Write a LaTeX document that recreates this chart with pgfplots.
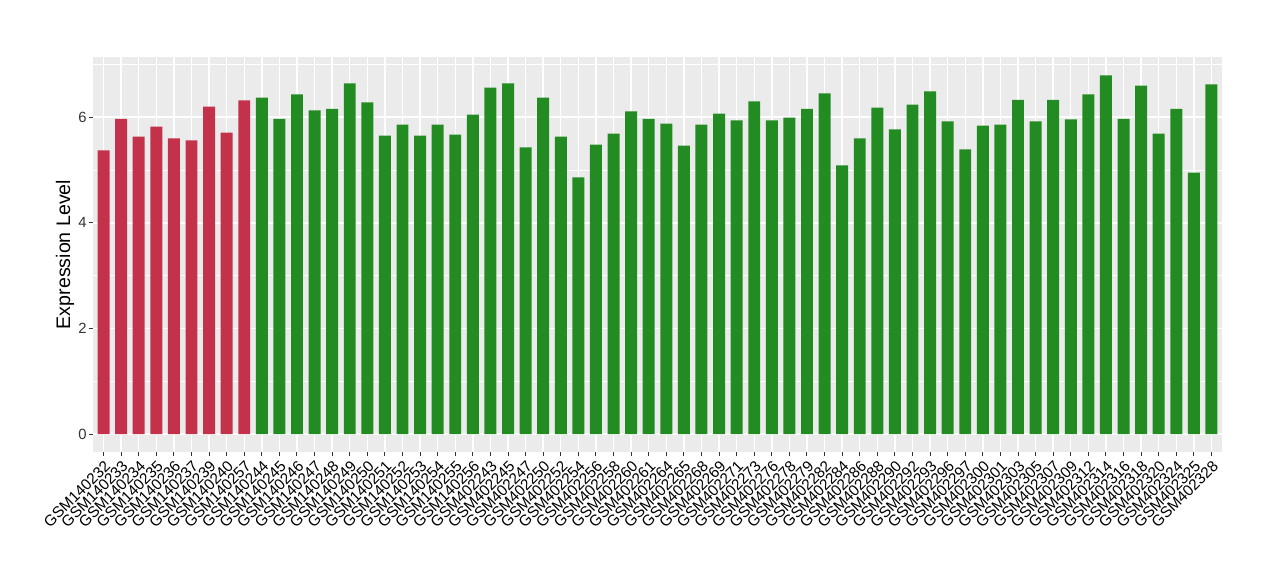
\documentclass[border=0pt]{standalone}
\usepackage{pgfplots}
\pgfplotsset{compat=1.18}
\usepackage{fontspec}
\setmainfont{Liberation Sans}
\definecolor{redbar}{RGB}{195,50,74}
\definecolor{greenbar}{RGB}{34,139,34}
\definecolor{panel}{RGB}{235,235,235}
\definecolor{tickgray}{RGB}{51,51,51}
\begin{document}
\begin{tikzpicture}
\useasboundingbox (0,0) rectangle (640pt,290pt);
\begin{axis}[
  at={(46.5pt,64pt)}, anchor=south west,
  width=564.5pt, height=197.5pt, scale only axis,
  xmin=-0.6, xmax=63.6, ymin=-0.34, ymax=7.14,
  axis background/.style={fill=panel},
  axis line style={draw=none},
  xtick={0,...,63},
  xticklabels={GSM140232,GSM140233,GSM140234,GSM140235,GSM140236,GSM140237,GSM140239,GSM140240,GSM140257,GSM140244,GSM140245,GSM140246,GSM140247,GSM140248,GSM140249,GSM140250,GSM140251,GSM140252,GSM140253,GSM140254,GSM140255,GSM140256,GSM402243,GSM402245,GSM402247,GSM402250,GSM402252,GSM402254,GSM402256,GSM402258,GSM402260,GSM402261,GSM402264,GSM402265,GSM402268,GSM402269,GSM402271,GSM402273,GSM402276,GSM402278,GSM402279,GSM402282,GSM402284,GSM402286,GSM402288,GSM402290,GSM402292,GSM402293,GSM402296,GSM402297,GSM402300,GSM402301,GSM402303,GSM402305,GSM402307,GSM402309,GSM402312,GSM402314,GSM402316,GSM402318,GSM402320,GSM402324,GSM402325,GSM402328},
  ytick={0,2,4,6},
  minor ytick={1,3,5,7},
  grid=both,
  major grid style={white, line width=0.7pt},
  minor grid style={white, line width=0.35pt},
  tick pos=left,
  tick align=outside,
  major tick length=2pt,
  minor tick length=0pt,
  tick style={tickgray, line width=0.5pt},
  /pgf/number format/assume math mode=true,
  xticklabel style={rotate=45, anchor=north east, font=\fontsize{7.7}{8}\selectfont, text=black, inner sep=1pt},
  yticklabel style={font=\fontsize{7.4}{8}\selectfont, text=tickgray, inner sep=1pt},
  ylabel={Expression Level},
  every axis y label/.style={at={([xshift=-14pt]axis description cs:0,0.5)}, rotate=90, anchor=center, font=\fontsize{9.8}{11}\selectfont},
]
\addplot[ybar, bar width=0.68, bar shift=0pt, fill=redbar, draw=none] coordinates {
(0,5.37) (1,5.97) (2,5.63) (3,5.82) (4,5.60) (5,5.56) (6,6.20) (7,5.71) (8,6.32)
};
\addplot[ybar, bar width=0.68, bar shift=0pt, fill=greenbar, draw=none] coordinates {
(9,6.37) (10,5.97) (11,6.43) (12,6.13) (13,6.16) (14,6.64) (15,6.28) (16,5.65) (17,5.86) (18,5.65)
(19,5.86) (20,5.67) (21,6.05) (22,6.56) (23,6.64) (24,5.43) (25,6.37) (26,5.63) (27,4.86) (28,5.48)
(29,5.69) (30,6.11) (31,5.97) (32,5.88) (33,5.46) (34,5.86) (35,6.07) (36,5.94) (37,6.30) (38,5.94)
(39,5.99) (40,6.16) (41,6.45) (42,5.09) (43,5.60) (44,6.18) (45,5.77) (46,6.24) (47,6.49) (48,5.92)
(49,5.39) (50,5.84) (51,5.86) (52,6.33) (53,5.92) (54,6.33) (55,5.96) (56,6.43) (57,6.79) (58,5.97)
(59,6.60) (60,5.69) (61,6.16) (62,4.95) (63,6.62)
};
\end{axis}
\end{tikzpicture}
\end{document}
